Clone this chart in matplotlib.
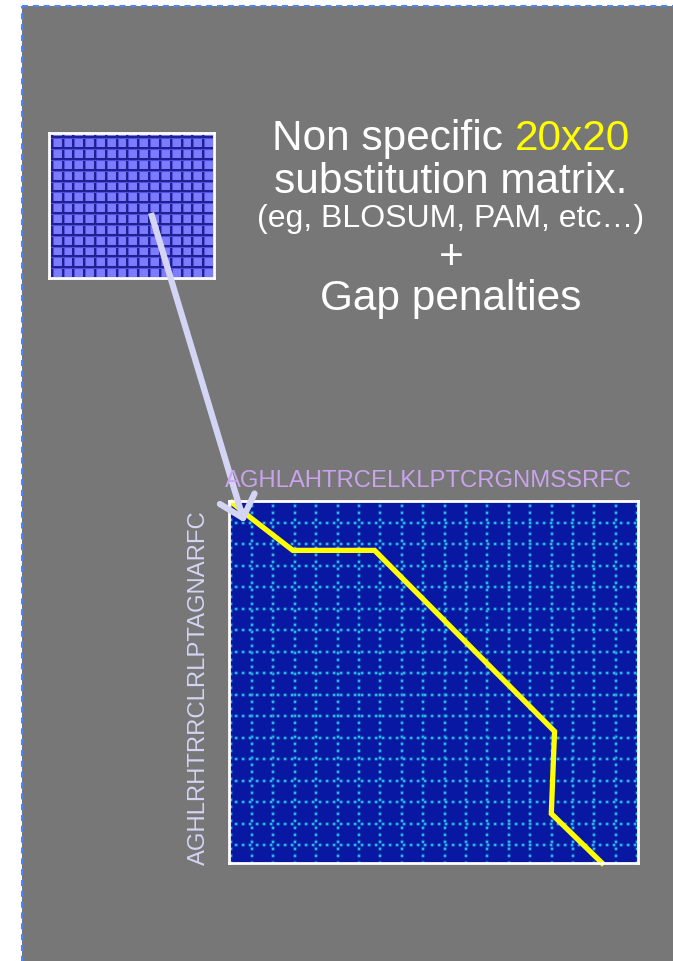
import numpy as np
import matplotlib.pyplot as plt
from matplotlib.patches import Rectangle

plt.rcParams['font.family'] = ['Liberation Sans', 'DejaVu Sans']

W, H = 673, 962

top_seq = "AGHLAHTRCELKLPTCRGNMSSRFC"
side_seq = "AGHLRHTRRCLRLPTAGNARFC"

# alignment path through the big matrix, in residue units
path_x = [0.2, 1.3, 3.9, 8.9, 19.9, 19.7, 22.8]
path_y = [0.1, 1.0, 3.0, 3.0, 14.0, 19.0, 22.0]

small_cols = 15
small_rows = 13

title_main = "Non specific "
title_hl = "20x20"
line2 = "substitution matrix."
line3 = "(eg, BLOSUM, PAM, etc\u2026)"
line4 = "+"
line5 = "Gap penalties"

GRAY = '#777777'
BORDER = '#4C86FF'
LAV = '#D4D4F4'
SEQ_TOP = '#C9A3EC'
YEL = '#FFFF00'


def px_axes(fig, x, y, w, h, **kw):
    # axes placed by pixel box (top-left origin)
    return fig.add_axes([x / W, 1 - (y + h) / H, w / W, h / H], **kw)


fig = plt.figure(figsize=(W / 100, H / 100), dpi=100, facecolor='white')

# background panel
bg = px_axes(fig, 0, 0, W, H)
bg.set_xlim(0, W)
bg.set_ylim(H, 0)
bg.axis('off')
bg.add_patch(Rectangle((21.5, 6.5), W + 20, H + 20, facecolor=GRAY,
                       edgecolor=BORDER, linewidth=1.5,
                       linestyle=(0, (2.9, 2.3))))

# small substitution matrix
sx0, sy0, sw, sh = 49, 134, 165, 145
sm = px_axes(fig, sx0, sy0, sw, sh)
sm.set_facecolor('#7C7CFF')
sm.set_xlim(0, sw)
sm.set_ylim(sh, 0)
sm.set_xticks([])
sm.set_yticks([])
for s in sm.spines.values():
    s.set_color('white')
    s.set_linewidth(2)
pitch_x = (sw - 2.7) / small_cols
pitch_y = (sh - 4.3) / small_rows
for k in range(small_cols + 1):
    xv = 2.7 + k * pitch_x
    sm.axvline(xv, color='#5050E0', lw=2.2)
    sm.axvline(xv, color='#12127A', lw=1.1)
for k in range(small_rows + 1):
    yv = 4.3 + k * pitch_y
    sm.axhline(yv, color='#5050E0', lw=2.2)
    sm.axhline(yv, color='#12127A', lw=1.1)

# big alignment matrix
bx0, by0, bw, bh = 229, 502, 409, 362
bm = px_axes(fig, bx0, by0, bw, bh)
bm.set_facecolor('#0818A2')
bm.set_xlim(0, len(top_seq))
bm.set_ylim(len(side_seq), 0)
bm.set_xticks([])
bm.set_yticks([])
for s in bm.spines.values():
    s.set_color('white')
    s.set_linewidth(2)
scx = len(top_seq) / bw
scy = len(side_seq) / bh
glow = dict(color='#1A6FC8', lw=3.0, linestyle=(0, (0.1, 1.58)),
            dash_capstyle='round', alpha=0.6)
dot = dict(color='#30C4EC', lw=1.6, linestyle=(0, (0.1, 3.05)),
           dash_capstyle='round')
for k in range(20):
    xv = (1.5 + 21.4 * k) * scx
    bm.axvline(xv, **glow)
    bm.axvline(xv, **dot)
for k in range(1, 17):
    yv = (21.5 * k) * scy
    bm.axhline(yv, **glow)
    bm.axhline(yv, **dot)
bm.plot(path_x, path_y, color=YEL, lw=3.8, solid_joinstyle='miter',
        clip_on=False)

# overlay for arrow and text
ov = px_axes(fig, 0, 0, W, H)
ov.set_xlim(0, W)
ov.set_ylim(H, 0)
ov.axis('off')
ov.patch.set_alpha(0)

start = np.array([151.0, 214.0])
tip = np.array([243.0, 519.0])
ov.plot([start[0], tip[0]], [start[1], tip[1]], color=LAV, lw=4.5,
        solid_capstyle='butt')
back = (start - tip) / np.linalg.norm(start - tip)
for ang in (-42, 42):
    a = np.deg2rad(ang)
    rot = np.array([[np.cos(a), -np.sin(a)], [np.sin(a), np.cos(a)]])
    end = tip + rot @ back * 27
    ov.plot([tip[0], end[0]], [tip[1], end[1]], color=LAV, lw=4.5,
            solid_capstyle='round')

# sequences
ov.text(429, 487, top_seq, color=SEQ_TOP, fontsize=17.2, ha='center',
        va='baseline')
ov.text(205, 688, side_seq, color=LAV, fontsize=17.2, ha='center',
        va='baseline', rotation=90, rotation_mode='anchor')

# headline text
cx = 451
renderer = fig.canvas.get_renderer()
full = ov.text(cx, 150, title_main + title_hl, fontsize=30.5, ha='center',
               va='baseline', color='white')
bb = full.get_window_extent(renderer)
x_left = bb.x0
x_right = bb.x1
full.remove()
ov.text(x_left, 150, title_main, fontsize=30.5, ha='left', va='baseline',
        color='white')
ov.text(x_right, 150, title_hl, fontsize=30.5, ha='right', va='baseline',
        color=YEL)
ov.text(cx, 193, line2, fontsize=30.5, ha='center', va='baseline',
        color='white')
ov.text(cx, 227, line3, fontsize=23, ha='center', va='baseline',
        color='white')
ov.text(cx, 269, line4, fontsize=30.5, ha='center', va='baseline',
        color='white')
ov.text(cx, 310, line5, fontsize=30.5, ha='center', va='baseline',
        color='white')

fig.savefig('out.png', dpi=100, facecolor='white')
